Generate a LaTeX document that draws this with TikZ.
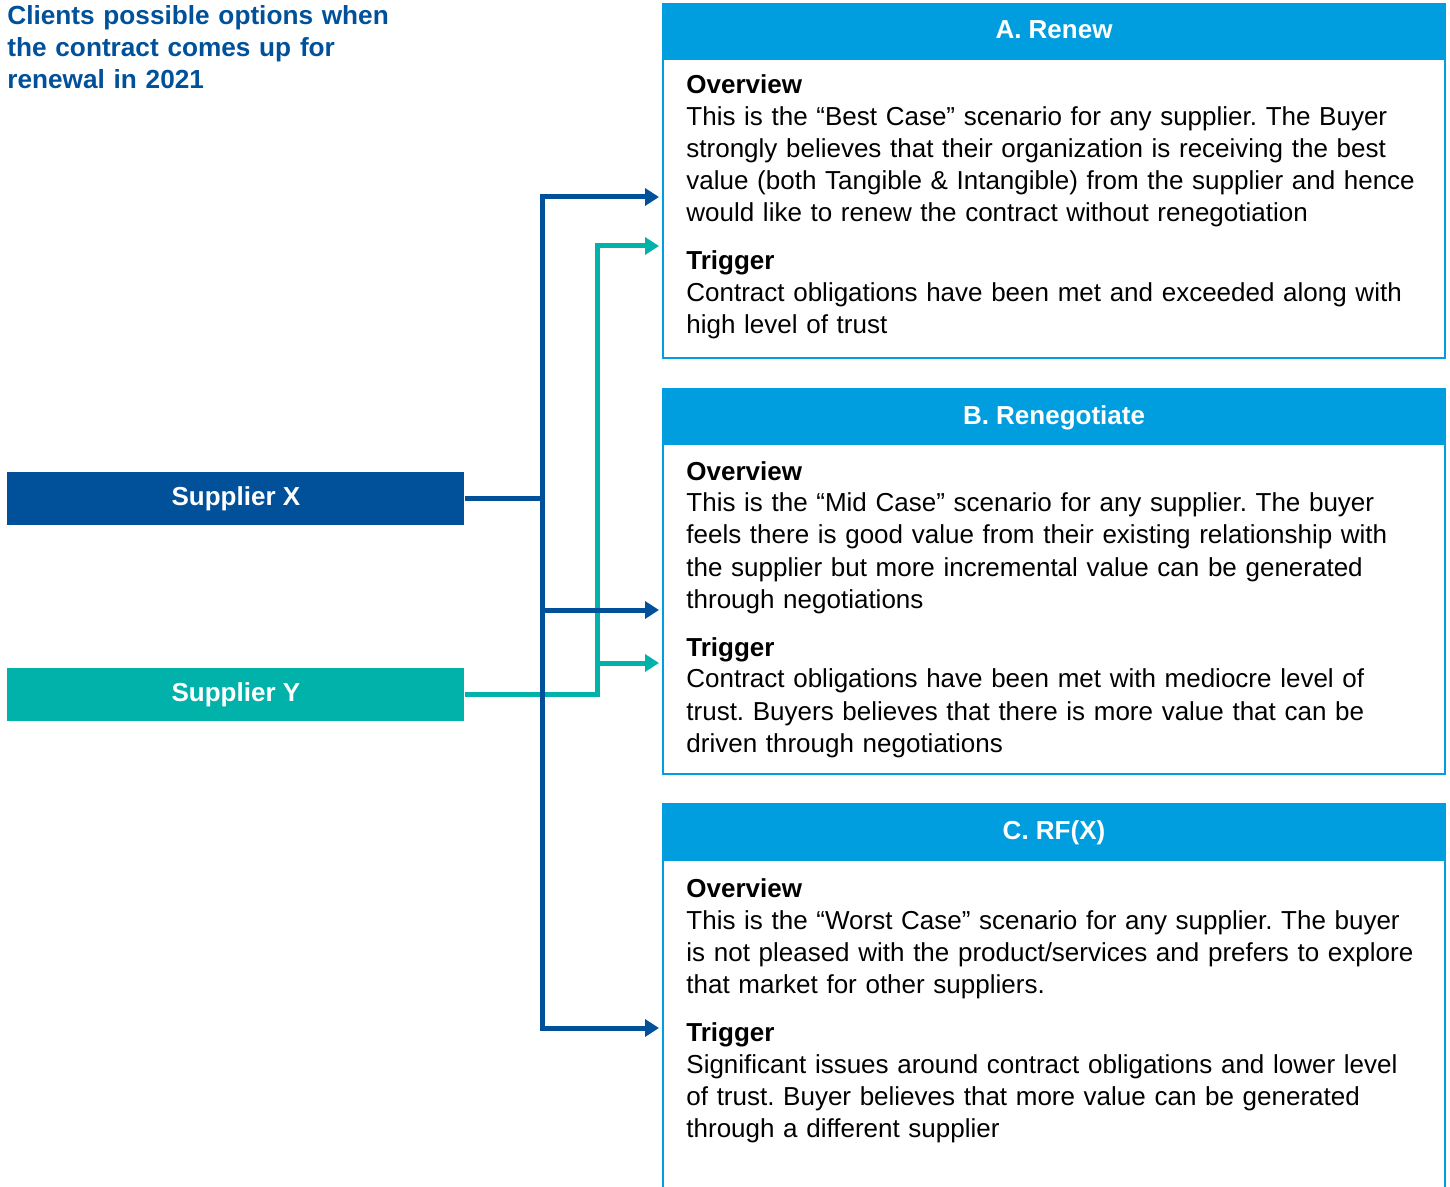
\documentclass[tikz,border=0pt]{standalone}
\usepackage{fontspec}
\setmainfont{Liberation Sans}
\usepackage{tikz}
\usetikzlibrary{arrows.meta,positioning}
\frenchspacing

\definecolor{kdark}{RGB}{0,81,154}
\definecolor{kteal}{RGB}{0,178,169}
\definecolor{khead}{RGB}{0,158,222}

\begin{document}
\begin{tikzpicture}[x=0.5pt,y=-0.5pt,
    hdr/.style={fill=khead, draw=khead, line width=1pt, anchor=north west, inner sep=0pt,
        minimum width=391pt, minimum height=27.5pt, text=white, text depth=1.5pt,
        font=\fontsize{13}{16}\selectfont\bfseries},
    panel/.style={draw=khead, line width=1pt, anchor=north west, inner sep=0pt,
        minimum width=391pt},
    supbox/.style={anchor=north west, inner sep=0pt, minimum width=228.5pt,
        minimum height=26.5pt, text=white, font=\fontsize{13}{16}\selectfont\bfseries},
    bodytext/.style={anchor=base west, inner sep=0pt, text width=385pt, align=left,
        font=\fontsize{13}{16}\selectfont},
    blueline/.style={draw=kdark, line width=2.5pt},
    tealline/.style={draw=kteal, line width=2.5pt},
    tip/.style={-{Triangle[length=7pt,width=8.5pt]}, shorten >=1.5pt},
    twotip/.style={{Triangle[length=7pt,width=8.5pt]}-{Triangle[length=7pt,width=8.5pt]},
        shorten >=1.5pt, shorten <=1.5pt}]
    \useasboundingbox (0,0) rectangle (1450,1187);
    \clip (0,0) rectangle (1450,1187);

    % title
    \node[anchor=base west, inner sep=0pt, text width=260pt, align=left, text=kdark,
        font=\fontsize{13.1}{16}\selectfont\bfseries] (title) at (7,25)
        {Clients possible options when\\the contract comes up for\\renewal in 2021};

    % suppliers
    \node[supbox, fill=kdark] (supX) at (7,472) {Supplier X};
    \node[supbox, fill=kteal] (supY) at (7,668) {Supplier Y};

    % option panels
    \node[panel, minimum height=150pt] (bodyA) at (662,57) {};
    \node[hdr] (hdrA) at (662,3) {A. Renew};
    \node[panel, minimum height=165pt] (bodyB) at (662,443) {};
    \node[hdr] (hdrB) at (662,388) {B. Renegotiate};
    \node[panel, minimum height=175pt] (bodyC) at (662,859) {};
    \node[hdr] (hdrC) at (662,803) {C. RF(X)};

    \node[bodytext] (txtA) at (686,94) {{\bfseries Overview}\\
        This is the “Best Case” scenario for any supplier. The Buyer\\
        strongly believes that their organization is receiving the best\\
        value (both Tangible \& Intangible) from the supplier and hence\\
        would like to renew the contract without renegotiation\\[8pt]
        {\bfseries Trigger}\\
        Contract obligations have been met and exceeded along with\\
        high level of trust};
    \node[bodytext] (txtB) at (686,480) {{\bfseries Overview}\\
        This is the “Mid Case” scenario for any supplier. The buyer\\
        feels there is good value from their existing relationship with\\
        the supplier but more incremental value can be generated\\
        through negotiations\\[8pt]
        {\bfseries Trigger}\\
        Contract obligations have been met with mediocre level of\\
        trust. Buyers believes that there is more value that can be\\
        driven through negotiations};
    \node[bodytext] (txtC) at (686,897) {{\bfseries Overview}\\
        This is the “Worst Case” scenario for any supplier. The buyer\\
        is not pleased with the product/services and prefers to explore\\
        that market for other suppliers.\\[8pt]
        {\bfseries Trigger}\\
        Significant issues around contract obligations and lower level\\
        of trust. Buyer believes that more value can be generated\\
        through a different supplier};

    % connectors
    \coordinate (tA) at (542,197);
    \coordinate (tB) at (542,610);
    \coordinate (tC) at (542,1028);
    \coordinate (yA) at (597,246);
    \coordinate (yB) at (597,663);

    \draw[tealline, tip] (supY.east) -| (yA) -- (yA -| bodyA.west);
    \draw[tealline, tip] (yB) -- (yB -| bodyB.west);

    \draw[blueline] (supX.east) -- (supX.east -| tA);
    \draw[blueline, twotip] (tA -| bodyA.west) -- (tA) -- (tC) -- (tC -| bodyC.west);
    \draw[blueline, tip] (tB) -- (tB -| bodyB.west);
\end{tikzpicture}
\end{document}
